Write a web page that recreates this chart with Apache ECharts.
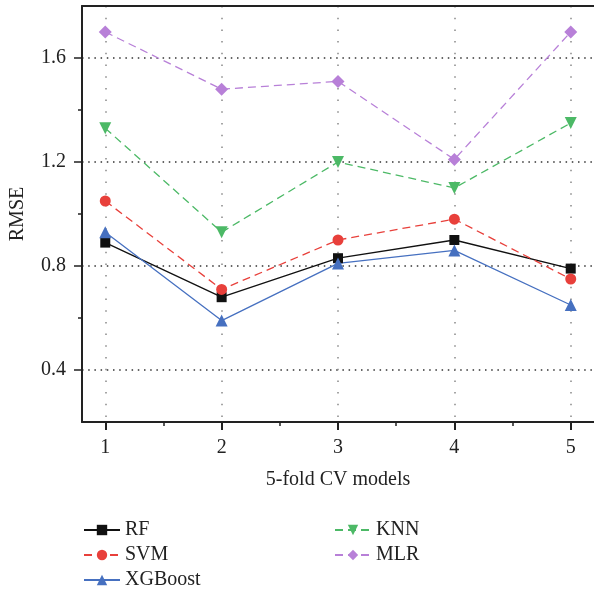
<!DOCTYPE html>
<html>
<head>
<meta charset="utf-8">
<script src="https://cdn.jsdelivr.net/npm/echarts@6/dist/echarts.min.js"></script>
<style>
  html, body { margin: 0; padding: 0; background: #fff; }
  #chart { width: 594px; height: 590px; }
</style>
</head>
<body>
<div id="chart"></div>
<script>
// RMSE of each regression model over the five cross-validation folds
const folds = [1, 2, 3, 4, 5];
const rf      = [0.89, 0.68, 0.83, 0.90, 0.79];
const svm     = [1.05, 0.71, 0.90, 0.98, 0.75];
const xgboost = [0.93, 0.59, 0.81, 0.86, 0.65];
const knn     = [1.33, 0.93, 1.20, 1.10, 1.35];
const mlr     = [1.70, 1.48, 1.51, 1.21, 1.70];

const yTicks = [0.4, 0.8, 1.2, 1.6];
const yMinorTicks = [0.6, 1.0, 1.4];
const xMinorTicks = [1.5, 2.5, 3.5, 4.5];

const FONT = '"Liberation Serif", "DejaVu Serif", serif';
const AXIS_COLOR = '#222';
const FONT_SIZE = 20;

function pairs(values) {
  return folds.map((f, i) => [f, values[i]]);
}

function lineSeries(name, values, color, symbol, size, dashed, rotate) {
  return {
    name: name,
    type: 'line',
    xAxisIndex: 0,
    yAxisIndex: 0,
    data: pairs(values),
    symbol: symbol,
    symbolSize: size,
    symbolRotate: rotate || 0,
    showSymbol: true,
    itemStyle: { color: color },
    lineStyle: { color: color, width: 1.3, type: dashed ? [8, 5] : 'solid' },
    emphasis: { disabled: true },
    z: 3
  };
}

const legendCommon = {
  orient: 'vertical',
  top: 520,
  height: 100,
  padding: 0,
  itemWidth: 36,
  itemHeight: 13,
  itemGap: 5,
  textStyle: { fontFamily: FONT, fontSize: FONT_SIZE, color: '#222', lineHeight: 20 }
};

const chart = echarts.init(document.getElementById('chart'), null, { renderer: 'canvas' });

chart.setOption({
  animation: false,
  backgroundColor: '#fff',
  textStyle: { fontFamily: FONT },
  grid: { left: 81, right: 0, top: 6, bottom: 168, containLabel: false },
  legend: [
    Object.assign({ data: ['RF', 'SVM', 'XGBoost'], left: 83 }, legendCommon),
    Object.assign({ data: ['KNN', 'MLR'], left: 334 }, legendCommon)
  ],
  xAxis: [
    {
      type: 'value',
      position: 'bottom',
      min: 0.8,
      max: 5.2,
      name: '5-fold CV models',
      nameLocation: 'middle',
      nameGap: 48,
      nameTextStyle: { fontFamily: FONT, fontSize: FONT_SIZE, color: '#222' },
      axisLine: { show: true, onZero: false, lineStyle: { color: AXIS_COLOR, width: 2 } },
      axisTick: { show: true, customValues: folds, length: 8, lineStyle: { color: AXIS_COLOR, width: 2 } },
      axisLabel: { customValues: folds, margin: 16, fontFamily: FONT, fontSize: FONT_SIZE, color: '#222' },
      splitLine: { show: true, lineStyle: { color: '#888', width: 1.5, type: [1.5, 10.2] } }
    },
    {
      // minor ticks between folds
      type: 'value',
      position: 'bottom',
      min: 0.8,
      max: 5.2,
      axisLine: { show: false, onZero: false },
      axisTick: { show: true, customValues: xMinorTicks, length: 4, lineStyle: { color: AXIS_COLOR, width: 1.5 } },
      axisLabel: { show: false, customValues: xMinorTicks },
      splitLine: { show: false }
    },
    {
      // top frame line
      type: 'value',
      position: 'top',
      min: 0.8,
      max: 5.2,
      axisLine: { show: true, onZero: false, lineStyle: { color: AXIS_COLOR, width: 2 } },
      axisTick: { show: false },
      axisLabel: { show: false },
      splitLine: { show: false }
    }
  ],
  yAxis: [
    {
      type: 'value',
      min: 0.2,
      max: 1.8,
      name: 'RMSE',
      nameLocation: 'middle',
      nameGap: 54,
      nameRotate: 90,
      nameTextStyle: { fontFamily: FONT, fontSize: FONT_SIZE, color: '#222' },
      axisLine: { show: true, onZero: false, lineStyle: { color: AXIS_COLOR, width: 2 } },
      axisTick: { show: true, customValues: yTicks, length: 8, lineStyle: { color: AXIS_COLOR, width: 1.5 } },
      axisLabel: { customValues: yTicks, margin: 16, fontFamily: FONT, fontSize: FONT_SIZE, color: '#222',
                   formatter: v => v.toFixed(1) },
      splitLine: { show: true, lineStyle: { color: '#333', width: 1.5, type: [1.5, 4.7] } }
    },
    {
      // minor ticks between labelled values
      type: 'value',
      min: 0.2,
      max: 1.8,
      position: 'left',
      axisLine: { show: false, onZero: false },
      axisTick: { show: true, customValues: yMinorTicks, length: 4, lineStyle: { color: AXIS_COLOR, width: 1.5 } },
      axisLabel: { show: false, customValues: yMinorTicks },
      splitLine: { show: false }
    }
  ],
  series: [
    lineSeries('RF', rf, '#111111', 'rect', 10, false),
    lineSeries('SVM', svm, '#e8403b', 'circle', 11, true),
    lineSeries('XGBoost', xgboost, '#4670c0', 'triangle', 12, false),
    lineSeries('KNN', knn, '#4cb966', 'triangle', 12, true, 180),
    lineSeries('MLR', mlr, '#b880d8', 'diamond', 13, true)
  ]
});
</script>
</body>
</html>
